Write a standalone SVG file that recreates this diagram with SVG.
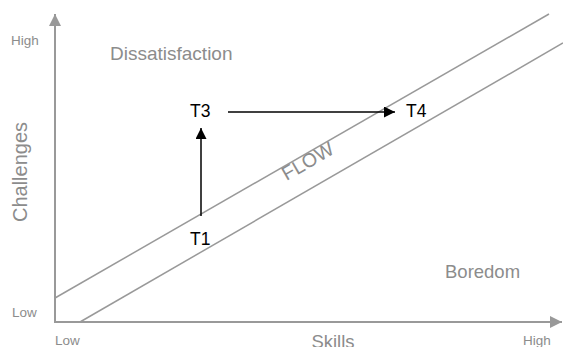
<svg xmlns="http://www.w3.org/2000/svg" width="563" height="347" viewBox="0 0 563 347">
<defs>
<style>
.axis{stroke:#999;stroke-width:2;fill:none}
.band{stroke:#999;stroke-width:1.5;fill:none}
.arr{stroke:#000;stroke-width:1.5;fill:none}
.lbl{font-family:"Liberation Sans",Arial,sans-serif;fill:#8c8c8c}
.t{font-family:"Liberation Sans",Arial,sans-serif;fill:#000;font-size:17.5px}
</style>
<marker id="ga" viewBox="0 0 10 10" refX="10" refY="5" markerUnits="userSpaceOnUse" markerWidth="14" markerHeight="12" orient="auto"><path d="M0,0L10,5L0,10Z" fill="#999"/></marker>
<marker id="ba" viewBox="0 0 10 10" refX="10" refY="5" markerUnits="userSpaceOnUse" markerWidth="16" markerHeight="11" orient="auto"><path d="M0,0L10,5L0,10Z" fill="#000"/></marker>
</defs>
<rect width="563" height="347" fill="#fff"/>
<g id="axes">
<line class="axis" x1="55" y1="323" x2="55" y2="14" marker-end="url(#ga)"/>
<line class="axis" x1="54" y1="322" x2="562" y2="322" marker-end="url(#ga)"/>
</g>
<g id="flow-band">
<line class="band" x1="55" y1="298" x2="549" y2="14"/>
<line class="band" x1="80" y1="322" x2="563" y2="43"/>
<text class="lbl" font-size="19.5" transform="translate(311,167) rotate(-30)" text-anchor="middle">FLOW</text>
</g>
<g id="labels">
<text class="lbl" font-size="13.5" x="11" y="45">High</text>
<text class="lbl" font-size="13.5" x="12" y="317">Low</text>
<text class="lbl" font-size="13.5" x="55" y="345">Low</text>
<text class="lbl" font-size="13.5" x="523" y="345">High</text>
<text class="lbl" font-size="18.5" x="333" y="348" text-anchor="middle">Skills</text>
<text class="lbl" font-size="20" transform="translate(27,172) rotate(-90)" text-anchor="middle">Challenges</text>
<text class="lbl" font-size="19" x="110" y="60">Dissatisfaction</text>
<text class="lbl" font-size="18.5" x="445" y="278">Boredom</text>
</g>
<g id="T1"><text class="t" x="190" y="245">T1</text></g>
<g id="T3"><text class="t" x="190" y="117">T3</text></g>
<g id="T4"><text class="t" x="406" y="117">T4</text></g>
<g id="connectors">
<line class="arr" x1="201" y1="216" x2="201" y2="128" marker-end="url(#ba)"/>
<line class="arr" x1="228" y1="112" x2="395" y2="112" marker-end="url(#ba)"/>
</g>
</svg>
